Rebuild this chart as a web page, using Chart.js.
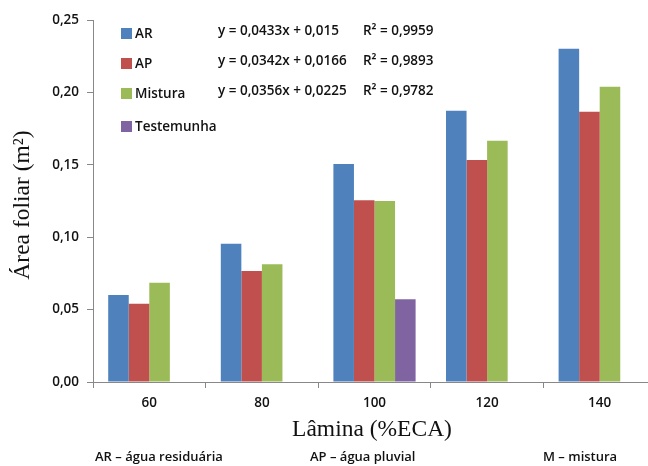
<!DOCTYPE html>
<html>
<head>
<meta charset="utf-8">
<script src="https://cdn.jsdelivr.net/npm/chart.js@4.4.1/dist/chart.umd.min.js"></script>
<style>
  html, body { margin: 0; padding: 0; background: #fff; overflow: hidden; }
  #wrap { width: 664px; height: 466px; }
</style>
</head>
<body>
<div id="wrap"><canvas id="chart" width="664" height="466"></canvas></div>
<script>
// data
const laminas = ['60', '80', '100', '120', '140'];
const ar = [0.060, 0.0955, 0.1505, 0.1873, 0.2302];
const ap = [0.0540, 0.0766, 0.1256, 0.1533, 0.1866];
const mistura = [0.0685, 0.0814, 0.1250, 0.1666, 0.2039];
const testemunha = [null, null, 0.0571, null, null];
const yTicks = [0, 0.05, 0.10, 0.15, 0.20, 0.25];

const serieNomes = ['AR', 'AP', 'Mistura', 'Testemunha'];
const cores = ['#4F81BD', '#C0504D', '#9BBB59', '#8064A2'];
const equacoes = [
  ['y = 0,0433x + 0,015', 'R\u00B2 = 0,9959'],
  ['y = 0,0342x + 0,0166', 'R\u00B2 = 0,9893'],
  ['y = 0,0356x + 0,0225', 'R\u00B2 = 0,9782']
];
const notas = [['AR \u2013 \u00E1gua residu\u00E1ria', 95], ['AP \u2013 \u00E1gua pluvial', 310], ['M \u2013 mistura', 543]];

const sans = '"Open Sans", sans-serif';
const serif = '"Liberation Serif", "DejaVu Serif", serif';

// legend, equations, axis titles and footnotes
const extras = {
  id: 'extras',
  afterDraw(chart) {
    const ctx = chart.ctx;
    ctx.save();
    ctx.textBaseline = 'middle';
    ctx.textAlign = 'left';
    ctx.font = '600 13.5px ' + sans;
    const rows = [33, 63, 93, 126];
    serieNomes.forEach((n, i) => {
      ctx.fillStyle = cores[i];
      ctx.fillRect(121, rows[i] - 5, 11, 11);
      ctx.fillStyle = '#111';
      ctx.fillText(n, 135, rows[i] + 1);
    });
    equacoes.forEach((e, i) => {
      ctx.fillText(e[0], 218, rows[i] - 2);
      ctx.fillText(e[1], 363, rows[i] - 2);
    });

    ctx.font = '23.5px ' + serif;
    ctx.textAlign = 'center';
    ctx.fillText('L\u00E2mina (%ECA)', 372, 430);

    ctx.translate(23, 205);
    ctx.rotate(-Math.PI / 2);
    ctx.fillText('\u00C1rea foliar (m\u00B2)', 0, 0);
    ctx.setTransform(1, 0, 0, 1, 0, 0);

    ctx.font = '600 13px ' + sans;
    ctx.textAlign = 'left';
    notas.forEach(n => ctx.fillText(n[0], n[1], 457));
    ctx.restore();
  }
};

const ctx = document.getElementById('chart');
new Chart(ctx, {
  type: 'bar',
  data: {
    labels: laminas,
    datasets: [
      { label: serieNomes[0], data: ar, backgroundColor: cores[0] },
      { label: serieNomes[1], data: ap, backgroundColor: cores[1] },
      { label: serieNomes[2], data: mistura, backgroundColor: cores[2] },
      { label: serieNomes[3], data: testemunha, backgroundColor: cores[3] }
    ]
  },
  options: {
    responsive: false,
    animation: false,
    devicePixelRatio: 1,
    layout: { padding: { top: 20, left: 0, right: 8, bottom: 0 } },
    datasets: { bar: { categoryPercentage: 0.73, barPercentage: 1 } },
    plugins: { legend: { display: false }, tooltip: { enabled: false } },
    scales: {
      x: {
        grid: { display: true, offset: true, drawOnChartArea: false, color: '#888', tickLength: 6 },
        border: { color: '#888', width: 1 },
        ticks: { color: '#111', font: { family: sans, size: 13.5, weight: 600 }, padding: 7 },
        afterFit(s) { s.height = 84; }
      },
      y: {
        min: 0, max: 0.25,
        afterBuildTicks(s) { s.ticks = yTicks.map(v => ({ value: v })); },
        grid: { display: true, drawOnChartArea: false, color: '#888', tickLength: 6 },
        border: { color: '#888', width: 1 },
        ticks: {
          color: '#111', font: { family: sans, size: 13.5, weight: 600 }, padding: 8,
          callback: v => v.toFixed(2).replace('.', ',')
        },
        afterFit(s) { s.width = 93; }
      }
    }
  },
  plugins: [extras]
});
</script>
</body>
</html>
